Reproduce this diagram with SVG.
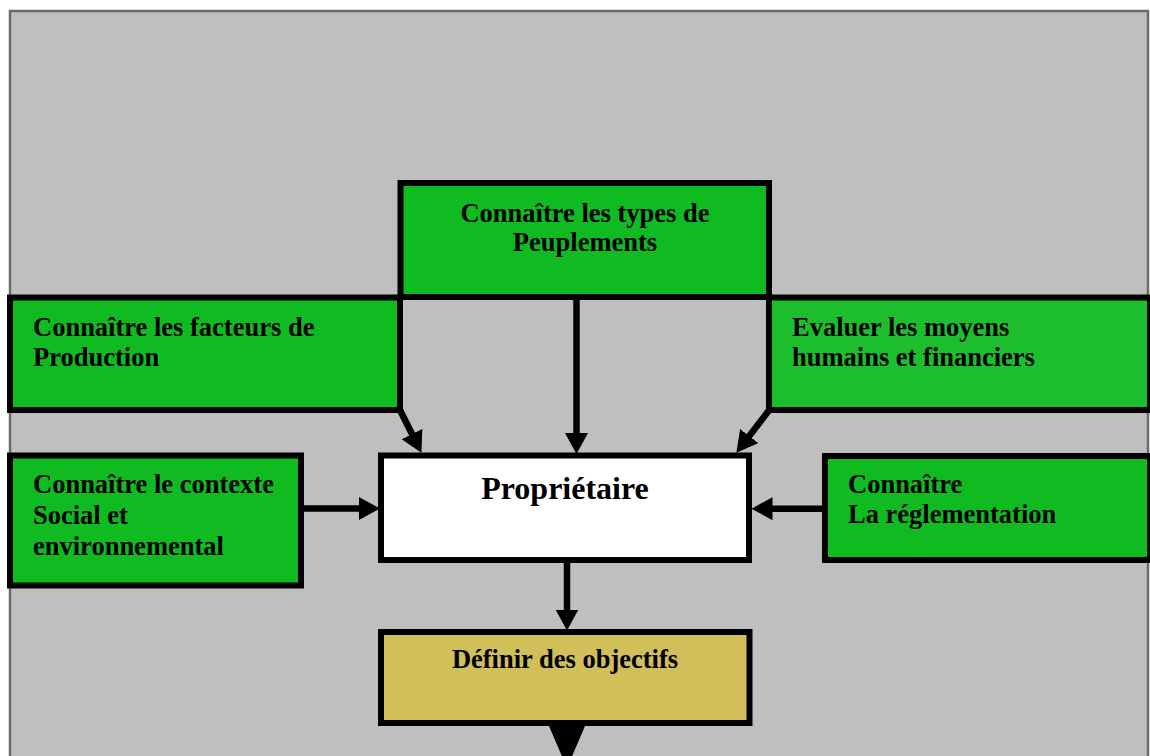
<svg xmlns="http://www.w3.org/2000/svg" width="1150" height="756" viewBox="0 0 1150 756">
  <style>
    .box { stroke: #000; stroke-width: 6; }
    .green { fill: #10BB22; }
    .green2 { fill: #1CBE2E; }
    .white { fill: #FFFFFF; }
    .gold { fill: #D1BF5A; }
    .t { font-family: "Liberation Serif", "Times New Roman", serif; font-weight: bold; font-size: 26.5px; fill: #000; }
    .tc { text-anchor: middle; }
    .big { font-size: 32px; }
    .conn { stroke: #000; stroke-width: 6.5; fill: none; }
  </style>
  <defs>
    <marker id="ah" viewBox="0 0 21 23" markerWidth="21" markerHeight="23" refX="10" refY="11.5" markerUnits="userSpaceOnUse" orient="auto">
      <path d="M0,0 L21,11.5 L0,23 Z" fill="#000"/>
    </marker>
  </defs>
  <rect x="0" y="0" width="1150" height="756" fill="#FFFFFF"/>
  <rect x="10" y="11" width="1138" height="760" fill="#BFBFBF" stroke="#6B6B6B" stroke-width="2.5"/>

  <g id="connectors">
    <line class="conn" x1="576.5" y1="297" x2="576.5" y2="443" marker-end="url(#ah)"/>
    <line class="conn" x1="399" y1="408" x2="416.5" y2="443" marker-end="url(#ah)"/>
    <line class="conn" x1="770" y1="409" x2="743.1" y2="444" marker-end="url(#ah)"/>
    <line class="conn" x1="301" y1="508.5" x2="369" y2="508.5" marker-end="url(#ah)"/>
    <line class="conn" x1="825" y1="508.7" x2="762.5" y2="508.7" marker-end="url(#ah)"/>
    <line class="conn" x1="567" y1="560" x2="567" y2="619.5" marker-end="url(#ah)"/>
    <polygon points="549,726 585,726 567,768" fill="#000"/>
  </g>

  <g id="node-facteurs">
    <rect class="box green" x="10" y="297.5" width="390" height="112.5"/>
    <text class="t" x="33" y="336">Connaître les facteurs de</text>
    <text class="t" x="33" y="366">Production</text>
  </g>

  <g id="node-moyens">
    <rect class="box green2" x="769" y="297.5" width="381" height="112.5"/>
    <text class="t" x="792" y="336">Evaluer les moyens</text>
    <text class="t" x="792" y="366">humains et financiers</text>
  </g>

  <g id="node-peuplements">
    <rect class="box green" x="400.5" y="183" width="368.5" height="114"/>
    <text class="t tc" x="585" y="222">Connaître les types de</text>
    <text class="t tc" x="585" y="251">Peuplements</text>
  </g>

  <g id="node-proprietaire">
    <rect class="box white" x="381" y="455.5" width="368" height="104.5"/>
    <text class="t tc big" x="565" y="499">Propriétaire</text>
  </g>

  <g id="node-contexte">
    <rect class="box green" x="10" y="455.5" width="291" height="130"/>
    <text class="t" x="33" y="493">Connaître le contexte</text>
    <text class="t" x="33" y="524">Social et</text>
    <text class="t" x="33" y="555">environnemental</text>
  </g>

  <g id="node-reglementation">
    <rect class="box green" x="825" y="456" width="325" height="104"/>
    <text class="t" x="848" y="493">Connaître</text>
    <text class="t" x="848" y="523">La réglementation</text>
  </g>

  <g id="node-objectifs">
    <rect class="box gold" x="381" y="632" width="368.5" height="91"/>
    <text class="t tc" x="565" y="668">Définir des objectifs</text>
  </g>
</svg>
